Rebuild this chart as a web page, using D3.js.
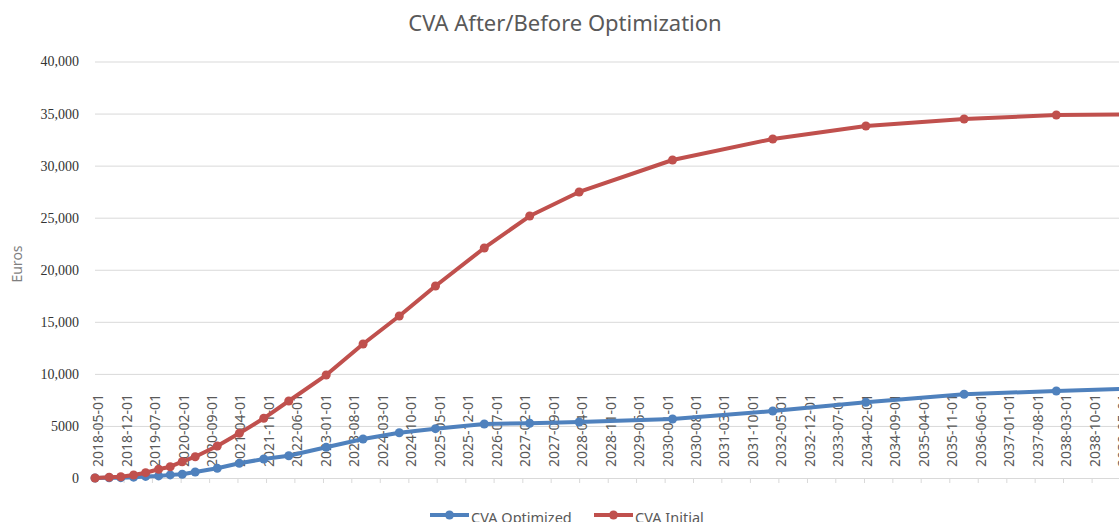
<!DOCTYPE html>
<html>
<head>
<meta charset="utf-8">
<script src="https://cdn.jsdelivr.net/npm/d3@7"></script>
<style>
  body { margin: 0; background: #fff; }
  #chart { width: 1119px; height: 522px; overflow: hidden; }
</style>
</head>
<body>
<div id="chart"></div>
<script>
var w = 1119;
var h = 522;

// data
var dates = ["2018-05-01", "2018-08-15", "2018-11-10", "2019-02-14", "2019-05-15", "2019-08-20",
             "2019-11-15", "2020-02-13", "2020-05-20", "2020-11-01", "2021-04-15", "2021-10-15",
             "2022-04-20", "2023-01-25", "2023-10-28", "2024-07-25", "2025-04-22", "2026-04-22",
             "2027-03-28", "2028-04-01", "2030-03-01", "2032-03-20", "2034-02-15", "2036-02-20",
             "2038-01-10", "2040-01-01"];
var cvaInitial = [0, 70, 125, 290, 510, 835, 1085, 1565, 2045, 3075, 4290, 5735,
                  7395, 9890, 12870, 15560, 18440, 22090, 25160, 27470, 30540, 32560,
                  33810, 34480, 34860, 34950];
var cvaOptimized = [0, 20, 30, 80, 150, 200, 300, 355, 576, 930, 1410, 1825,
                    2140, 2950, 3745, 4350, 4740, 5190, 5260, 5380, 5670, 6430,
                    7270, 8040, 8360, 8650];
var yTicks = [0, 5000, 10000, 15000, 20000, 25000, 30000, 35000, 40000];
var yTickLabels = ["0", "5000", "10,000", "15,000", "20,000", "25,000", "30,000", "35,000", "40,000"];
var xTickLabels = ["2018-05-01", "2018-12-01", "2019-07-01", "2020-02-01", "2020-09-01", "2021-04-01",
                   "2021-11-01", "2022-06-01", "2023-01-01", "2023-08-01", "2024-03-01", "2024-10-01",
                   "2025-05-01", "2025-12-01", "2026-07-01", "2027-02-01", "2027-09-01", "2028-04-01",
                   "2028-11-01", "2029-06-01", "2030-01-01", "2030-08-01", "2031-03-01", "2031-10-01",
                   "2032-05-01", "2032-12-01", "2033-07-01", "2034-02-01", "2034-09-01", "2035-04-01",
                   "2035-11-01", "2036-06-01", "2037-01-01", "2037-08-01", "2038-03-01", "2038-10-01",
                   "2039-05-01"];

var parseDate = d3.timeParse("%Y-%m-%d");

var series = [
  { name: "CVA Optimized", color: "#4f81bd", values: cvaOptimized },
  { name: "CVA Initial", color: "#c0504d", values: cvaInitial }
];

var svg = d3.select("#chart")
            .append("svg")
            .attr("width", w)
            .attr("height", h)
            .style("font-family", "'Noto Sans', sans-serif");

// scales
var xScale = d3.scaleTime()
    .domain([parseDate("2018-05-01"), parseDate("2038-03-01")])
    .range([95, 1063]);
var yScale = d3.scaleLinear()
    .domain([0, 40000])
    .range([478, 61.5]);

// title
svg.append("text")
    .attr("x", 565)
    .attr("y", 31)
    .attr("text-anchor", "middle")
    .style("font-size", "22px")
    .style("fill", "#595959")
    .text("CVA After/Before Optimization");

// y axis title
svg.append("text")
    .attr("transform", "translate(22,264) rotate(-90)")
    .attr("text-anchor", "middle")
    .style("font-size", "14px")
    .style("fill", "#7f7f7f")
    .text("Euros");

// gridlines + y labels
var yAxis = d3.axisLeft(yScale)
    .tickValues(yTicks)
    .tickSize(-(w - 95))
    .tickFormat(function(d, i) { return yTickLabels[i]; });
var gy = svg.append("g")
    .attr("transform", "translate(95,0)")
    .call(yAxis);
gy.select(".domain").remove();
gy.selectAll(".tick line").attr("stroke", "#d9d9d9");
gy.selectAll(".tick text")
    .attr("x", -16)
    .style("font-family", "'Liberation Serif', serif")
    .style("font-size", "14px")
    .style("fill", "#333333");

// x axis (labels drawn inside the plot, above the axis line)
var xTickDates = xTickLabels.map(parseDate);
var xAxis = d3.axisBottom(xScale)
    .tickValues(xTickDates)
    .tickSize(5)
    .tickFormat("");
var gx = svg.append("g")
    .attr("transform", "translate(0,478)")
    .call(xAxis);
gx.select(".domain").attr("d", "M95,0.5H" + w).attr("stroke", "#d9d9d9");
gx.selectAll(".tick line").attr("stroke", "#d9d9d9");

svg.append("g")
    .selectAll("text")
    .data(xTickDates)
    .enter()
    .append("text")
    .attr("transform", function(d) { return "translate(" + (xScale(d) + 3) + ",467) rotate(-90)"; })
    .attr("dy", "0.35em")
    .attr("text-anchor", "start")
    .style("font-size", "14px")
    .style("fill", "#595959")
    .text(function(d, i) { return xTickLabels[i]; });

// lines and dots
var line = d3.line()
    .x(function(d, i) { return xScale(parseDate(dates[i])); })
    .y(function(d) { return yScale(d); });

series.forEach(function(s) {
    svg.append("path")
        .datum(s.values)
        .attr("fill", "none")
        .attr("stroke", s.color)
        .attr("stroke-width", 4)
        .attr("stroke-linejoin", "round")
        .attr("d", line);
    svg.selectAll(".dot-" + s.name.replace(/\s/g, ""))
        .data(s.values)
        .enter()
        .append("circle")
        .attr("cx", function(d, i) { return xScale(parseDate(dates[i])); })
        .attr("cy", function(d) { return yScale(d); })
        .attr("r", 4.5)
        .attr("fill", s.color);
});

// legend
var legendX = [430, 594];
var legend = svg.selectAll(".legend")
    .data(series)
    .enter()
    .append("g")
    .attr("transform", function(d, i) { return "translate(" + legendX[i] + ",515)"; });
legend.append("line")
    .attr("x1", 0).attr("x2", 39)
    .attr("stroke", function(d) { return d.color; })
    .attr("stroke-width", 4);
legend.append("circle")
    .attr("cx", 19.5)
    .attr("r", 4.5)
    .attr("fill", function(d) { return d.color; });
legend.append("text")
    .attr("x", 41)
    .attr("y", 8)
    .style("font-size", "14.5px")
    .style("fill", "#595959")
    .text(function(d) { return d.name; });
</script>
</body>
</html>
